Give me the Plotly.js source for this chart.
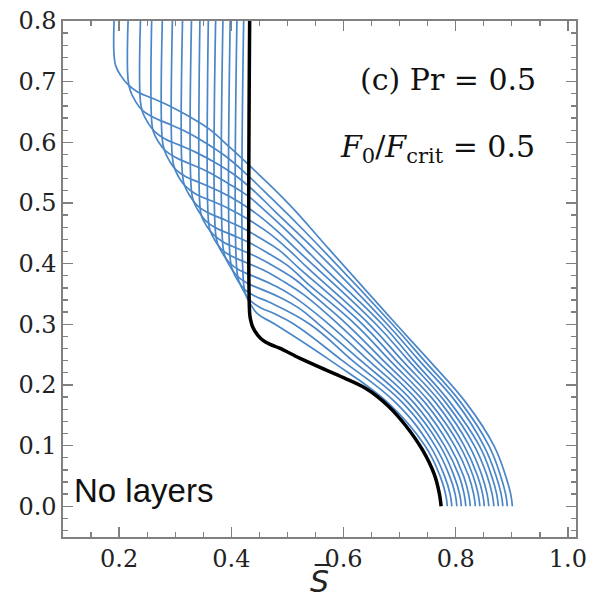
<!DOCTYPE html>
<html><head><meta charset="utf-8">
<script src="https://cdn.plot.ly/plotly-3.0.1.min.js"></script>
<style>html,body{margin:0;padding:0;background:#fff}</style>
</head><body><div id="chart" style="width:593px;height:599px"></div>
<script>
// Blue profiles (S-bar vs z)
const blueS = [
  [0.191,0.191,0.194,0.203,0.216,0.233,0.258,0.290,0.326,0.362,0.397,0.433,0.504,0.575,0.694,0.753,0.819,0.868,0.889,0.898,0.901],
  [0.216,0.216,0.220,0.229,0.241,0.259,0.284,0.316,0.351,0.387,0.423,0.458,0.529,0.687,0.744,0.810,0.859,0.880,0.889,0.892],
  [0.238,0.238,0.242,0.251,0.263,0.281,0.306,0.338,0.374,0.409,0.445,0.480,0.552,0.678,0.735,0.802,0.850,0.872,0.881,0.884],
  [0.258,0.258,0.261,0.270,0.283,0.301,0.325,0.357,0.393,0.429,0.464,0.500,0.571,0.669,0.725,0.791,0.842,0.864,0.873,0.876],
  [0.277,0.277,0.281,0.290,0.302,0.320,0.345,0.377,0.413,0.448,0.484,0.519,0.658,0.716,0.783,0.833,0.856,0.865,0.868],
  [0.295,0.295,0.299,0.308,0.320,0.338,0.363,0.395,0.430,0.466,0.502,0.537,0.646,0.705,0.774,0.824,0.847,0.856,0.859],
  [0.313,0.313,0.317,0.326,0.338,0.356,0.381,0.413,0.448,0.484,0.519,0.634,0.694,0.765,0.815,0.839,0.848,0.851],
  [0.329,0.329,0.333,0.342,0.354,0.372,0.397,0.429,0.464,0.500,0.535,0.621,0.683,0.755,0.807,0.831,0.840,0.843],
  [0.344,0.344,0.347,0.356,0.369,0.387,0.411,0.443,0.479,0.515,0.550,0.606,0.671,0.746,0.798,0.823,0.832,0.835],
  [0.359,0.359,0.362,0.371,0.383,0.401,0.426,0.458,0.494,0.529,0.591,0.659,0.736,0.789,0.814,0.823,0.826],
  [0.372,0.372,0.376,0.385,0.397,0.415,0.440,0.472,0.507,0.574,0.645,0.726,0.780,0.806,0.815,0.818],
  [0.385,0.385,0.389,0.398,0.410,0.428,0.453,0.485,0.520,0.556,0.631,0.716,0.772,0.797,0.807,0.810],
  [0.398,0.398,0.402,0.411,0.423,0.441,0.466,0.540,0.616,0.706,0.763,0.789,0.799,0.802],
  [0.410,0.410,0.414,0.423,0.435,0.453,0.478,0.512,0.598,0.694,0.754,0.780,0.790,0.793],
  [0.422,0.422,0.426,0.435,0.447,0.478,0.577,0.680,0.745,0.772,0.782,0.785]
];
const blueZ = [
  [0.800,0.744,0.726,0.710,0.695,0.683,0.673,0.660,0.642,0.621,0.592,0.561,0.497,0.423,0.30,0.24,0.17,0.10,0.05,0.02,0.0],
  [0.800,0.703,0.685,0.668,0.653,0.642,0.632,0.619,0.601,0.579,0.551,0.520,0.455,0.30,0.24,0.17,0.10,0.05,0.02,0.0],
  [0.800,0.667,0.649,0.633,0.618,0.606,0.596,0.583,0.565,0.544,0.516,0.484,0.420,0.30,0.24,0.17,0.10,0.05,0.02,0.0],
  [0.800,0.636,0.618,0.601,0.586,0.575,0.565,0.552,0.533,0.512,0.484,0.453,0.388,0.30,0.24,0.17,0.10,0.05,0.02,0.0],
  [0.800,0.604,0.586,0.569,0.554,0.543,0.533,0.520,0.502,0.480,0.452,0.421,0.30,0.24,0.17,0.10,0.05,0.02,0.0],
  [0.800,0.575,0.557,0.540,0.526,0.514,0.504,0.491,0.473,0.451,0.423,0.392,0.30,0.24,0.17,0.10,0.05,0.02,0.0],
  [0.800,0.546,0.528,0.512,0.497,0.485,0.475,0.462,0.444,0.423,0.394,0.30,0.24,0.17,0.10,0.05,0.02,0.0],
  [0.800,0.520,0.502,0.486,0.471,0.459,0.449,0.436,0.418,0.397,0.368,0.30,0.24,0.17,0.10,0.05,0.02,0.0],
  [0.800,0.496,0.478,0.462,0.447,0.435,0.425,0.412,0.394,0.373,0.345,0.30,0.24,0.17,0.10,0.05,0.02,0.0],
  [0.800,0.473,0.455,0.438,0.423,0.412,0.402,0.389,0.370,0.349,0.30,0.24,0.17,0.10,0.05,0.02,0.0],
  [0.800,0.450,0.432,0.416,0.401,0.389,0.379,0.366,0.348,0.30,0.24,0.17,0.10,0.05,0.02,0.0],
  [0.800,0.429,0.411,0.395,0.380,0.368,0.358,0.345,0.327,0.30,0.24,0.17,0.10,0.05,0.02,0.0],
  [0.800,0.408,0.390,0.373,0.358,0.347,0.337,0.30,0.24,0.17,0.10,0.05,0.02,0.0],
  [0.800,0.388,0.370,0.353,0.338,0.327,0.317,0.30,0.24,0.17,0.10,0.05,0.02,0.0],
  [0.800,0.366,0.348,0.332,0.317,0.30,0.24,0.17,0.10,0.05,0.02,0.0]
];
// Black profile
const blackS = [0.4327,0.4327,0.4345,0.4381,0.4470,0.4559,0.4683,0.4861,0.5217,0.5573,0.600,0.640,0.680,0.710,0.740,0.762,0.771,0.774];
const blackZ = [0.800,0.3185,0.3069,0.2954,0.2822,0.2739,0.2673,0.2607,0.2442,0.2294,0.212,0.194,0.165,0.134,0.094,0.052,0.020,0.0];

const blue = 'rgb(74,134,200)';
const traces = [];
for (let i = 0; i < blueS.length; i++) {
  traces.push({x: blueS[i], y: blueZ[i], mode: 'lines', type: 'scatter',
    line: {color: blue, width: 1.7, shape: 'spline', smoothing: 1.2}, hoverinfo: 'skip'});
}
traces.push({x: blackS, y: blackZ, mode: 'lines', type: 'scatter',
  line: {color: '#000', width: 3.5, shape: 'spline', smoothing: 1.0}, hoverinfo: 'skip'});

const axColor = '#808080';
const tickFont = {family: 'DejaVu Serif', size: 24, color: '#222'};
const layout = {
  width: 593, height: 599,
  margin: {l: 63, r: 17, t: 21, b: 62},
  paper_bgcolor: '#fff', plot_bgcolor: '#fff',
  showlegend: false,
  xaxis: {
    range: [0.1, 1.0144], tick0: 0.2, dtick: 0.2, tickformat: '.1f',
    ticks: 'inside', ticklen: 10, tickwidth: 1.3, tickcolor: axColor,
    showline: true, linecolor: axColor, linewidth: 1.6, mirror: 'allticks',
    minor: {tick0: 0.1, dtick: 0.05, ticks: 'inside', ticklen: 5, tickwidth: 1.3, tickcolor: axColor},
    showgrid: false, zeroline: false, tickfont: tickFont,
    title: {text: '<i>S\u0305</i>', font: {family: 'DejaVu Sans', size: 30, color: '#222'}, standoff: 0}
  },
  yaxis: {
    range: [-0.0507, 0.8], tick0: 0, dtick: 0.1, tickformat: '.1f',
    ticks: 'inside', ticklen: 10, tickwidth: 1.3, tickcolor: axColor,
    showline: true, linecolor: axColor, linewidth: 1.6, mirror: 'allticks',
    minor: {tick0: 0, dtick: 0.02, ticks: 'inside', ticklen: 5, tickwidth: 1.3, tickcolor: axColor},
    showgrid: false, zeroline: false, tickfont: tickFont
  },
  annotations: [
    {text: '(c) Pr = 0.5', xref: 'paper', yref: 'paper', x: 0.926, y: 0.886,
     xanchor: 'right', yanchor: 'middle', showarrow: false,
     font: {family: 'DejaVu Serif', size: 30, color: '#111'}},
    {text: '<i>F</i><sub>0</sub>/<i>F</i><sub>crit</sub> = 0.5', xref: 'paper', yref: 'paper', x: 0.924, y: 0.752,
     xanchor: 'right', yanchor: 'middle', showarrow: false,
     font: {family: 'DejaVu Serif', size: 30, color: '#111'}},
    {text: 'No layers', xref: 'paper', yref: 'paper', x: 0.018, y: 0.091,
     xanchor: 'left', yanchor: 'middle', showarrow: false,
     font: {family: 'Liberation Sans', size: 33, color: '#111'}}
  ]
};
Plotly.newPlot('chart', traces, layout, {displayModeBar: false, staticPlot: true});
</script></body></html>
